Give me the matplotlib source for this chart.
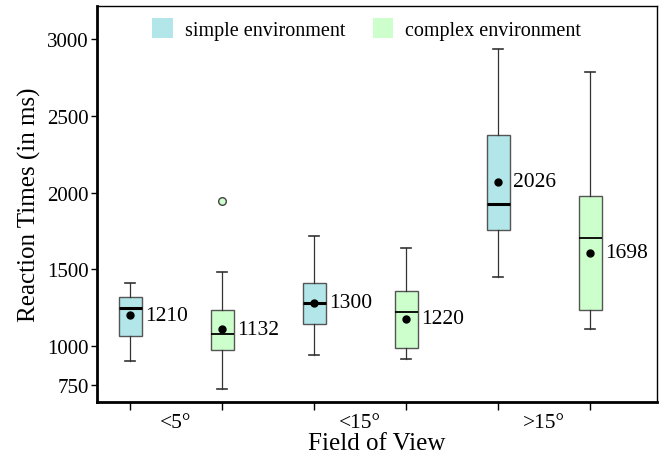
import numpy as np
import matplotlib
matplotlib.use("Agg")
import matplotlib.pyplot as plt
from matplotlib.patches import Patch

plt.rcParams['font.family'] = ['Liberation Serif', 'DejaVu Serif']

# data (ms)
groups = ['<5°', '<15°', '>15°']
env_names = ['simple environment', 'complex environment']
whislo = [903, 722, 942, 918, 1453, 1115]
q1 = [1067, 976, 1147, 992, 1757, 1239]
med = [1248, 1080, 1280, 1225, 1924, 1704]
q3 = [1322, 1235, 1412, 1360, 2377, 1977]
whishi = [1412, 1485, 1718, 1641, 2935, 2784]
mean_dot = [1203, 1110, 1282, 1179, 2070, 1610]
mean_lbl = [1210, 1132, 1300, 1220, 2026, 1698]
fliers = [[], [1945], [], [], [], []]

col_simple = '#b3e6e8'
col_complex = '#ccffcc'

stats = []
for i in range(6):
    stats.append(dict(whislo=whislo[i], q1=q1[i], med=med[i], q3=q3[i],
                      whishi=whishi[i], fliers=fliers[i], mean=mean_dot[i]))

fig = plt.figure(figsize=(6.62, 4.56), dpi=100)
ax = fig.add_axes([97/662, 53/456, 560/662, 396/456])

pos = np.arange(6)
bp = ax.bxp(stats, positions=pos, widths=0.25, patch_artist=True,
            showmeans=False, showfliers=True,
            boxprops=dict(edgecolor='#555555', linewidth=1),
            whiskerprops=dict(color='#333333', linewidth=0.9),
            capprops=dict(color='#333333', linewidth=1.2),
            capwidths=0.1,
            flierprops=dict(marker='o', markerfacecolor=col_complex,
                            markeredgecolor='#444444', markersize=5.5))
for i, b in enumerate(bp['boxes']):
    b.set_facecolor(col_simple if i % 2 == 0 else col_complex)
for i, m in enumerate(bp['medians']):
    m.set_color('black')
    m.set_linewidth(2.2 if i % 2 == 0 else 1.3)

ax.plot(pos, mean_dot, 'o', color='black', markersize=5, zorder=5)
for i in range(6):
    ax.text(pos[i] + 0.16, mean_dot[i], str(mean_lbl[i]), fontsize=15.5,
            va='center', ha='left')

ax.set_xlim(-0.359, 5.728)
ax.set_ylim(638, 3213)
ax.set_yticks([750, 1000, 1500, 2000, 2500, 3000])
ax.tick_params(axis='y', labelsize=15, length=4, width=1, pad=2)
ax.set_xticks(pos)
ax.set_xticklabels([''] * 6)
ax.tick_params(axis='x', length=6, width=1)
ax.set_xticks([0.5, 2.5, 4.5], groups, minor=True)
ax.tick_params(axis='x', which='minor', length=0, labelsize=15.5, pad=8)

for s in ['left', 'bottom']:
    ax.spines[s].set_linewidth(2)
for s in ['top', 'right']:
    ax.spines[s].set_linewidth(1)

ax.set_ylabel('Reaction Times (in ms)', fontsize=18, labelpad=4)
ax.set_xlabel('Field of View', fontsize=18, labelpad=0)

handles = [Patch(facecolor=col_simple, edgecolor='none'),
           Patch(facecolor=col_complex, edgecolor='none')]
ax.legend(handles, env_names, loc='upper center', ncol=2, frameon=False,
          fontsize=14.5, handlelength=1.0, handleheight=1.1, columnspacing=1.4,
          handletextpad=0.6, bbox_to_anchor=(0.482, 1.015))

plt.savefig('out.png', dpi=100)
